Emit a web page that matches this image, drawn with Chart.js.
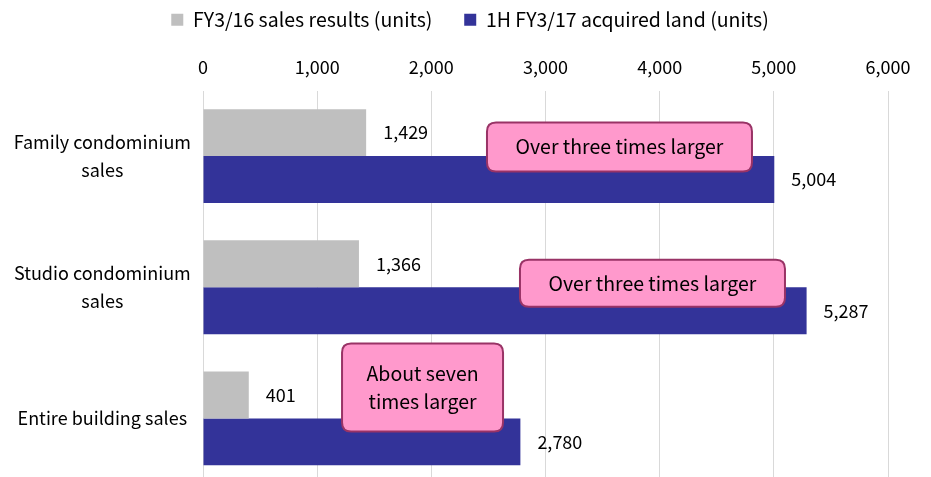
<!DOCTYPE html>
<html lang="en">
<head>
    <meta charset="UTF-8">
    <title>Land acquisition</title>
    <script src="https://cdn.jsdelivr.net/npm/chart.js@4/dist/chart.umd.min.js"></script>
    <style>
        html, body { margin: 0; padding: 0; background: #fff; overflow: hidden; }
        /* a touch taller than the window: the plot runs off the bottom edge like the original */
        #wrap { width: 931px; height: 484px; position: relative; }
    </style>
</head>
<body>
  <div id="wrap"><canvas id="salesChart"></canvas></div>

  <script>
    var categories = [["Family condominium", "sales"], ["Studio condominium", "sales"], "Entire building sales"];
    var salesResults = [1429, 1366, 401];
    var acquiredLand = [5004, 5287, 2780];
    var seriesNames = ["FY3/16 sales results (units)", "1H FY3/17 acquired land (units)"];
    var tickValues = [0, 1000, 2000, 3000, 4000, 5000, 6000];

    // callout boxes: text lines, x value of centre, category index, pixel nudge
    var callouts = [
        { lines: ["Over three times larger"], xVal: 3648, cat: 0, dy: -9, w: 265, h: 49 },
        { lines: ["Over three times larger"], xVal: 3937, cat: 1, dy: -4, w: 265, h: 47 },
        { lines: ["About seven", "times larger"], xVal: 1923, cat: 2, dy: -31, w: 161, h: 88 }
    ];

    var FONT = "'Noto Sans CJK JP', 'Noto Sans', sans-serif";
    var FS = 18;

    function roundRect(ctx, x, y, w, h, r) {
        ctx.beginPath();
        ctx.moveTo(x + r, y);
        ctx.lineTo(x + w - r, y);
        ctx.quadraticCurveTo(x + w, y, x + w, y + r);
        ctx.lineTo(x + w, y + h - r);
        ctx.quadraticCurveTo(x + w, y + h, x + w - r, y + h);
        ctx.lineTo(x + r, y + h);
        ctx.quadraticCurveTo(x, y + h, x, y + h - r);
        ctx.lineTo(x, y + r);
        ctx.quadraticCurveTo(x, y, x + r, y);
        ctx.closePath();
    }

    var labelPlugin = {
        id: 'labels',
        afterLayout: function (chart) {
            // nudge the legend a little right of the centre, as in the original
            chart.legend.left += 42;
        },
        afterDatasetsDraw: function (chart) {
            var ctx = chart.ctx;
            ctx.save();
            ctx.font = FS + "px " + FONT;
            ctx.fillStyle = "#000";
            ctx.textBaseline = "middle";
            ctx.textAlign = "left";
            chart.data.datasets.forEach(function (ds, di) {
                chart.getDatasetMeta(di).data.forEach(function (bar, i) {
                    ctx.fillText(ds.data[i].toLocaleString('en-US'), bar.x + 17, bar.y);
                });
            });

            // callouts
            var xs = chart.scales.x, ys = chart.scales.y;
            ctx.font = "19.5px " + FONT;
            callouts.forEach(function (c) {
                var cx = xs.getPixelForValue(c.xVal);
                var cy = ys.getPixelForValue(c.cat) + c.dy;
                var x = cx - c.w / 2, y = cy - c.h / 2;
                roundRect(ctx, x, y, c.w, c.h, 9);
                ctx.fillStyle = "#ff99cc";
                ctx.fill();
                ctx.lineWidth = 2;
                ctx.strokeStyle = "#993366";
                ctx.stroke();
                ctx.fillStyle = "#000";
                ctx.textAlign = "center";
                var lh = 28;
                var start = cy - (c.lines.length - 1) * lh / 2;
                c.lines.forEach(function (ln, k) {
                    ctx.fillText(ln, cx, start + k * lh);
                });
            });
            ctx.restore();
        }
    };

    var ctx = document.getElementById('salesChart').getContext('2d');
    var chart = new Chart(ctx, {
        type: 'bar',
        data: {
            labels: categories,
            datasets: [
                { label: seriesNames[0], data: salesResults, backgroundColor: '#bfbfbf' },
                { label: seriesNames[1], data: acquiredLand, backgroundColor: '#333399' }
            ]
        },
        options: {
            indexAxis: 'y',
            responsive: true,
            maintainAspectRatio: false,
            animation: false,
            categoryPercentage: 0.715,
            barPercentage: 1.0,
            layout: { padding: { left: 10, right: 43, top: 0, bottom: 0 } },
            plugins: {
                legend: {
                    position: 'top',
                    labels: {
                        boxWidth: 12, boxHeight: 12, padding: 10,
                        color: '#000',
                        font: { family: FONT, size: 19.5 },
                        generateLabels: function (chart) {
                            var items = Chart.defaults.plugins.legend.labels.generateLabels(chart);
                            // wider gap between the two entries
                            items[0].text = items[0].text + "     ";
                            return items;
                        }
                    }
                },
                tooltip: { enabled: false }
            },
            scales: {
                x: {
                    position: 'top',
                    min: 0, max: 6000,
                    afterBuildTicks: function (axis) {
                        axis.ticks = tickValues.map(function (v) { return { value: v }; });
                    },
                    ticks: {
                        color: '#000',
                        padding: 13,
                        font: { family: FONT, size: FS },
                        callback: function (v) { return v.toLocaleString('en-US'); }
                    },
                    grid: { color: '#d9d9d9', drawTicks: false, lineWidth: 1 },
                    border: { display: false },
                    afterFit: function (axis) { axis.height = 51; }
                },
                y: {
                    ticks: {
                        color: '#000',
                        padding: 12,
                        font: { family: FONT, size: FS, lineHeight: 1.55 },
                        align: 'center',
                        crossAlign: 'center'
                    },
                    grid: { display: false, drawTicks: false },
                    border: { display: false },
                    afterFit: function (axis) {
                        axis.width = 193;
                        axis.paddingTop = 0;
                        axis.paddingBottom = 0;
                    }
                }
            }
        },
        plugins: [labelPlugin]
    });
  </script>
</body>
</html>
